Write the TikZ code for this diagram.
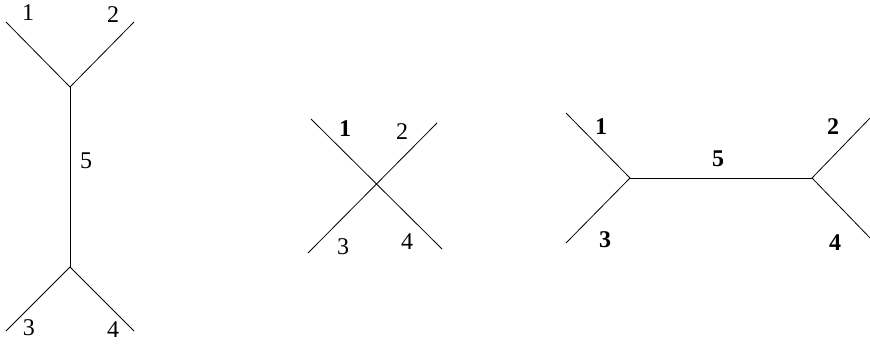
\documentclass[tikz,border=0pt]{standalone}
\usepackage{fontspec}
\setmainfont{Liberation Serif}
\newfontfamily\tnr{Liberation Serif}
\begin{document}
\begin{tikzpicture}[x=1pt,y=-1pt,
  leg/.style={draw=black,line width=0.8pt},
  lab/.style={font=\tnr\fontsize{24}{24}\selectfont,inner sep=0pt,anchor=center},
  blab/.style={font=\tnr\bfseries\fontsize{24}{24}\selectfont,inner sep=0pt,anchor=center}]
\useasboundingbox (0,0) rectangle (870,343);
% left diagram
\coordinate (La) at (6,22);
\coordinate (Lb) at (134,22);
\coordinate (Lv1) at (70,87);
\coordinate (Lv2) at (70,267);
\coordinate (Lc) at (6,331);
\coordinate (Ld) at (134,331);
\draw[leg] (La) -- (Lv1) -- (Lb);
\draw[leg] (Lv1) -- (Lv2);
\draw[leg] (Lc) -- (Lv2) -- (Ld);
\node[lab] (L1) at (28,13) {1};
\node[lab] (L2) at (113,15) {2};
\node[lab] (L5) at (86,161) {5};
\node[lab] (L3) at (29,328) {3};
\node[lab] (L4) at (113,330) {4};
% middle diagram
\coordinate (Ma) at (311,119);
\coordinate (Mb) at (437,123);
\coordinate (Mc) at (308,253);
\coordinate (Md) at (442,249);
\draw[leg] (Ma) -- (Md);
\draw[leg] (Mc) -- (Mb);
\node[blab] (M1) at (345,129) {1};
\node[lab] (M2) at (402,132) {2};
\node[lab] (M3) at (343,247) {3};
\node[lab] (M4) at (407,242) {4};
% right diagram
\coordinate (Ra) at (566,113);
\coordinate (Rc) at (566,243);
\coordinate (Rv1) at (630,178);
\coordinate (Rv2) at (812,178);
\coordinate (Rb) at (872,116);
\coordinate (Rd) at (872,240);
\draw[leg] (Ra) -- (Rv1) -- (Rc);
\draw[leg] (Rv1) -- (Rv2);
\draw[leg] (Rb) -- (Rv2) -- (Rd);
\node[blab] (R1) at (601,127) {1};
\node[blab] (R5) at (718,159) {5};
\node[blab] (R2) at (833,127) {2};
\node[blab] (R3) at (605,240) {3};
\node[blab] (R4) at (835,243) {4};
\end{tikzpicture}
\end{document}
